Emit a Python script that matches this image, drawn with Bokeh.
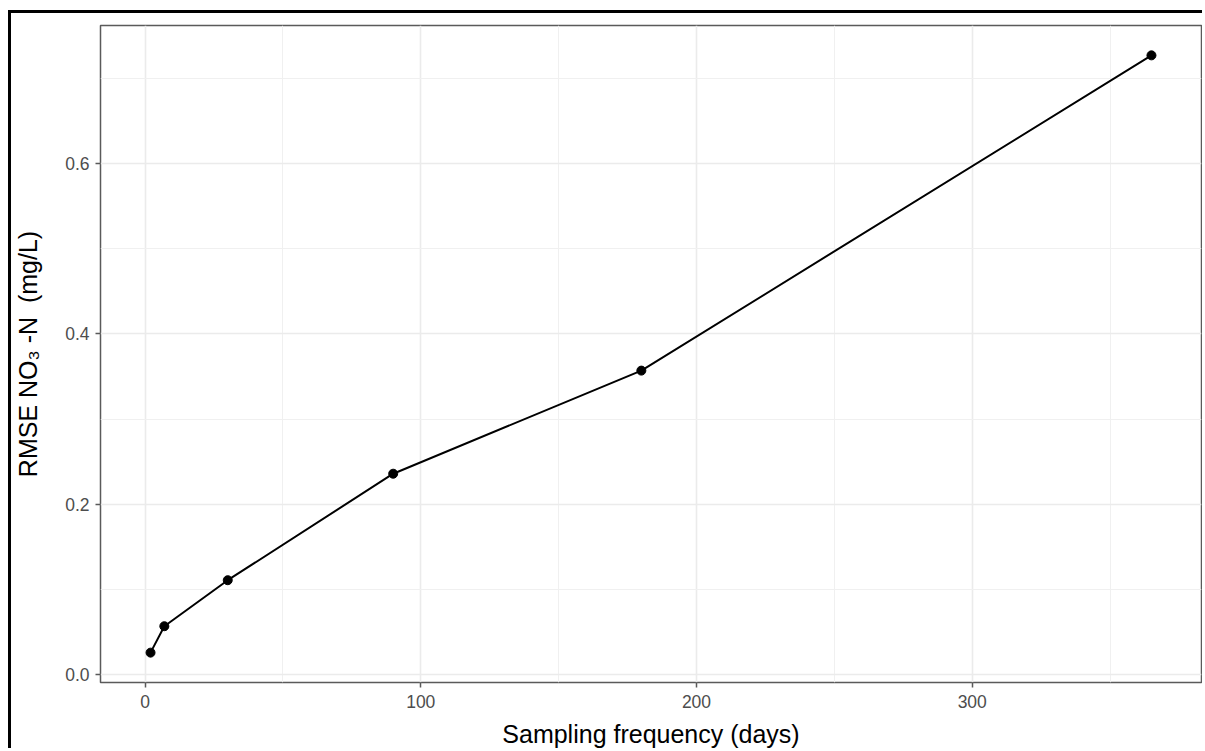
from bokeh.plotting import figure
from bokeh.models import FixedTicker, Range1d
from bokeh.embed import file_html
from bokeh.resources import INLINE

# ---- data ----
freq_days = [2, 7, 30, 90, 180, 365]
rmse_no3n = [0.026, 0.057, 0.111, 0.236, 0.357, 0.727]

x_major_ticks = [0, 100, 200, 300]
x_minor_ticks = [50, 150, 250, 350]
x_tick_labels = ["0", "100", "200", "300"]
y_major_ticks = [0.0, 0.2, 0.4, 0.6]
y_minor_ticks = [0.1, 0.3, 0.5, 0.7]
y_tick_labels = ["0.0", "0.2", "0.4", "0.6"]

x_title = "Sampling frequency (days)"
y_title = "RMSE NO\u2083 -N\u00a0 (mg/L)"

# ggplot-like 5% expansion
def expand(vals, f=0.05):
    lo, hi = min(vals), max(vals)
    pad = (hi - lo) * f
    return lo - pad, hi + pad

xr = expand(freq_days)
yr = expand(rmse_no3n)

p = figure(width=1194, height=738, output_backend="svg", toolbar_location=None,
           x_range=Range1d(*xr), y_range=Range1d(*yr),
           min_border_left=89, min_border_right=4, min_border_top=12, min_border_bottom=69)

p.background_fill_color = "white"
p.border_fill_color = "white"
p.outline_line_color = "#5a5a5a"
p.outline_line_width = 1.5

p.styles = {"margin-left": "8px", "margin-top": "10px",
            "border-top": "3px solid black", "border-left": "3px solid black"}

p.xaxis.ticker = FixedTicker(ticks=x_major_ticks, minor_ticks=x_minor_ticks)
p.yaxis.ticker = FixedTicker(ticks=y_major_ticks, minor_ticks=y_minor_ticks)
p.xaxis.major_label_overrides = {t: s for t, s in zip(x_major_ticks, x_tick_labels)}
p.yaxis.major_label_overrides = {t: s for t, s in zip(y_major_ticks, y_tick_labels)}

for g in (p.xgrid, p.ygrid):
    g.grid_line_color = "#ebebeb"
    g.grid_line_width = 1.6
    g.minor_grid_line_color = "#f0f0f0"
    g.minor_grid_line_width = 1.0

for ax in (p.xaxis, p.yaxis):
    ax.axis_line_color = None
    ax.major_tick_line_color = "#5a5a5a"
    ax.major_tick_line_width = 1.5
    ax.major_tick_out = 5
    ax.major_tick_in = 0
    ax.minor_tick_out = 0
    ax.minor_tick_in = 0
    ax.major_label_text_font = "Liberation Sans"
    ax.major_label_text_font_size = "17.5px"
    ax.major_label_text_color = "#4d4d4d"
    ax.axis_label_text_font = "Liberation Sans"
    ax.axis_label_text_font_size = "25px"
    ax.axis_label_text_font_style = "normal"
    ax.axis_label_text_color = "black"

p.xaxis.axis_label = x_title
p.yaxis.axis_label = y_title
p.xaxis.major_label_standoff = 7
p.xaxis.axis_label_standoff = 9
p.yaxis.major_label_standoff = 6
p.yaxis.axis_label_standoff = 20

p.line(freq_days, rmse_no3n, line_color="black", line_width=2)
p.scatter(freq_days, rmse_no3n, size=9, fill_color="black", line_color="black")

open("out.html", "w").write(file_html(p, INLINE))
